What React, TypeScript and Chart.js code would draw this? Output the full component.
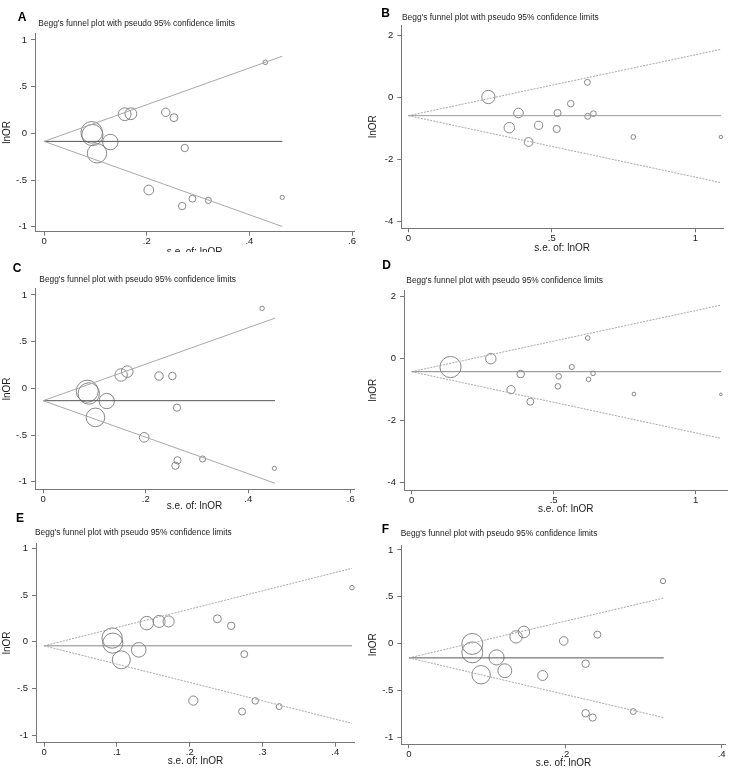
import React, { useEffect, useRef } from "react";
import { Chart, registerables } from "chart.js";
Chart.register(...registerables);

// ---------- Panel A ----------
const aSe = [0.431, 0.157, 0.169, 0.237, 0.253, 0.274, 0.0927, 0.094, 0.129, 0.103, 0.204, 0.269, 0.289, 0.32, 0.464];
const aLnOR = [0.761, 0.205, 0.21, 0.225, 0.168, -0.157, 0.011, -0.018, -0.093, -0.214, -0.607, -0.779, -0.7, -0.718, -0.686];
const aLineSe = [0, 0.464];
const aUpper = [-0.086, 0.826];
const aLower = [-0.086, -0.998];
const aPooled = [-0.086, -0.086];

// ---------- Panel B ----------
const bSe = [0.279, 0.624, 0.566, 0.384, 0.52, 0.625, 0.645, 0.352, 0.454, 0.517, 0.419, 0.784, 1.089];
const bLnOR = [0.0, 0.473, -0.215, -0.516, -0.516, -0.624, -0.538, -0.989, -0.914, -1.032, -1.452, -1.29, -1.29];
const bLineSe = [0, 1.09];
const bUpper = [-0.602, 1.538];
const bLower = [-0.602, -2.763];
const bPooled = [-0.602, -0.602];

// ---------- Panel C ----------
const cSe = [0.427, 0.152, 0.164, 0.226, 0.252, 0.261, 0.086, 0.089, 0.124, 0.102, 0.197, 0.262, 0.258, 0.311, 0.451];
const cLnOR = [0.857, 0.143, 0.179, 0.132, 0.132, -0.207, -0.03, -0.055, -0.136, -0.311, -0.525, -0.771, -0.829, -0.757, -0.857];
const cLineSe = [0, 0.452];
const cUpper = [-0.132, 0.752];
const cLower = [-0.132, -1.016];
const cPooled = [-0.132, -0.132];

// ---------- Panel D ----------
const dSe = [0.137, 0.279, 0.62, 0.564, 0.384, 0.518, 0.639, 0.623, 0.515, 0.35, 0.418, 0.783, 1.089];
const dLnOR = [-0.269, 0.0, 0.667, -0.269, -0.495, -0.57, -0.473, -0.667, -0.892, -1.0, -1.387, -1.14, -1.151];
const dLineSe = [0, 1.09];
const dUpper = [-0.419, 1.731];
const dLower = [-0.419, -2.57];
const dPooled = [-0.419, -0.419];

// ---------- Panel E ----------
const eSe = [0.423, 0.238, 0.257, 0.141, 0.158, 0.171, 0.0934, 0.0943, 0.13, 0.106, 0.275, 0.205, 0.272, 0.29, 0.323];
const eLnOR = [0.579, 0.246, 0.171, 0.2, 0.218, 0.218, 0.04, -0.014, -0.086, -0.193, -0.132, -0.629, -0.746, -0.632, -0.693];
const eLineSe = [0, 0.423];
const eUpper = [-0.043, 0.786];
const eLower = [-0.043, -0.872];
const ePooled = [-0.043, -0.043];

// ---------- Panel F ----------
const fSe = [0.325, 0.137, 0.147, 0.198, 0.241, 0.081, 0.081, 0.112, 0.1226, 0.0923, 0.171, 0.226, 0.226, 0.235, 0.287];
const fLnOR = [0.668, 0.072, 0.125, 0.029, 0.096, -0.003, -0.093, -0.147, -0.289, -0.332, -0.34, -0.214, -0.743, -0.789, -0.725];
const fLineSe = [0, 0.326];
const fUpper = [-0.152, 0.487];
const fLower = [-0.152, -0.79];
const fPooled = [-0.152, -0.152];

// ---------- ticks ----------
const xTicksSmall = [0, 0.2, 0.4, 0.6];
const xTicksLarge = [0, 0.5, 1];
const xTicksE = [0, 0.1, 0.2, 0.3, 0.4];
const xTicksF = [0, 0.2, 0.4];
const yTicksSmall = [-1, -0.5, 0, 0.5, 1];
const yTicksLarge = [-4, -2, 0, 2];

const HEADING = "Begg's funnel plot with pseudo 95% confidence limits";
const X_TITLE = "s.e. of: lnOR";
const Y_TITLE = "lnOR";

type Panel = {
  letter: string;
  se: number[]; lnor: number[];
  lineSe: number[]; upper: number[]; lower: number[]; pooled: number[];
  xTicks: number[]; yTicks: number[];
  canvas: { x: number; y: number; w: number; h: number };
  plot: { L: number; T: number; R: number; B: number };
  xAnchor: number[]; yAnchor: number[];
  titlePadB: number; rScale: number; dashed: boolean; pooledColor: string;
  letterPos: { x: number; y: number }; headingPos: { x: number; y: number };
};

const panels: Panel[] = [
  { letter: "A", se: aSe, lnor: aLnOR, lineSe: aLineSe, upper: aUpper, lower: aLower, pooled: aPooled,
    xTicks: xTicksSmall, yTicks: yTicksSmall,
    canvas: { x: 1, y: 0, w: 365, h: 252 }, plot: { L: 35, T: 33, R: 360, B: 231.7 },
    xAnchor: [0, 44.3, 0.6, 357.7], yAnchor: [1, 40, -1, 226.7],
    titlePadB: -6, rScale: 1.0, dashed: false, pooledColor: "#555",
    letterPos: { x: 22, y: 17 }, headingPos: { x: 38.3, y: 22.7 } },
  { letter: "B", se: bSe, lnor: bLnOR, lineSe: bLineSe, upper: bUpper, lower: bLower, pooled: bPooled,
    xTicks: xTicksLarge, yTicks: yTicksLarge,
    canvas: { x: 367, y: 0, w: 370, h: 253 }, plot: { L: 401.3, T: 25, R: 723, B: 228.3 },
    xAnchor: [0, 408.3, 1, 695.3], yAnchor: [2, 35, -4, 221],
    titlePadB: -1.2, rScale: 1.85, dashed: true, pooledColor: "#999",
    letterPos: { x: 385.5, y: 13 }, headingPos: { x: 402, y: 17.3 } },
  { letter: "C", se: cSe, lnor: cLnOR, lineSe: cLineSe, upper: cUpper, lower: cLower, pooled: cPooled,
    xTicks: xTicksSmall, yTicks: yTicksSmall,
    canvas: { x: 1, y: 258, w: 365, h: 254 }, plot: { L: 35, T: 288.3, R: 360, B: 489.3 },
    xAnchor: [0, 43.3, 0.6, 356.7], yAnchor: [1, 295, -1, 481.7],
    titlePadB: -0.5, rScale: 0.95, dashed: false, pooledColor: "#555",
    letterPos: { x: 17, y: 267.5 }, headingPos: { x: 39.3, y: 279 } },
  { letter: "D", se: dSe, lnor: dLnOR, lineSe: dLineSe, upper: dUpper, lower: dLower, pooled: dPooled,
    xTicks: xTicksLarge, yTicks: yTicksLarge,
    canvas: { x: 367, y: 258, w: 372, h: 256 }, plot: { L: 404, T: 290, R: 731.3, B: 490.3 },
    xAnchor: [0, 411.7, 1, 699], yAnchor: [2, 296.7, -4, 482.7],
    titlePadB: -1.2, rScale: 1.45, dashed: true, pooledColor: "#888",
    letterPos: { x: 386.5, y: 265 }, headingPos: { x: 406.3, y: 280 } },
  { letter: "E", se: eSe, lnor: eLnOR, lineSe: eLineSe, upper: eUpper, lower: eLower, pooled: ePooled,
    xTicks: xTicksE, yTicks: yTicksSmall,
    canvas: { x: 1, y: 515, w: 365, h: 257 }, plot: { L: 36, T: 543, R: 360, B: 742.7 },
    xAnchor: [0, 44.3, 0.4, 340], yAnchor: [1, 548.3, -1, 735.3],
    titlePadB: 4.5, rScale: 0.95, dashed: true, pooledColor: "#888",
    letterPos: { x: 20, y: 518 }, headingPos: { x: 35, y: 532.3 } },
  { letter: "F", se: fSe, lnor: fLnOR, lineSe: fLineSe, upper: fUpper, lower: fLower, pooled: fPooled,
    xTicks: xTicksF, yTicks: yTicksSmall,
    canvas: { x: 367, y: 515, w: 370, h: 257 }, plot: { L: 401.3, T: 545, R: 726.3, B: 744.3 },
    xAnchor: [0, 409, 0.4, 722.3], yAnchor: [1, 550, -1, 737.3],
    titlePadB: 2.5, rScale: 0.85, dashed: true, pooledColor: "#555",
    letterPos: { x: 385.5, y: 529 }, headingPos: { x: 400.7, y: 533.3 } },
];

const FONT = "'Liberation Sans', Arial, Helvetica, sans-serif";

function stataLabel(v: number): string {
  const r = Math.round(v * 1000) / 1000;
  if (r === 0) return "0";
  return String(r).replace(/^(-?)0\./, "$1.");
}

function FunnelPanel({ p }: { p: Panel }) {
  const ref = useRef<HTMLCanvasElement>(null);
  useEffect(() => {
    if (!ref.current) return;
    const [xv0, xp0, xv1, xp1] = p.xAnchor;
    const xs = (xv1 - xv0) / (xp1 - xp0);
    const xMin = xv0 + (p.plot.L - xp0) * xs;
    const xMax = xv0 + (p.plot.R - xp0) * xs;
    const [yv0, yp0, yv1, yp1] = p.yAnchor;
    const ys = (yv1 - yv0) / (yp1 - yp0);
    const yMax = yv0 + (p.plot.T - yp0) * ys;
    const yMin = yv0 + (p.plot.B - yp0) * ys;

    const lineStyle = (data: number[], color: string, dash: number[]) => ({
      data: p.lineSe.map((s, i) => ({ x: s, y: data[i] })),
      showLine: true,
      pointRadius: 0,
      borderColor: color,
      borderWidth: 1,
      borderDash: dash,
      backgroundColor: "transparent",
    });
    const funnelDash = p.dashed ? [2, 1.2] : [];

    const chart = new Chart(ref.current, {
      type: "scatter",
      data: {
        datasets: [
          lineStyle(p.upper, "#a8a8a8", funnelDash),
          lineStyle(p.lower, "#a8a8a8", funnelDash),
          lineStyle(p.pooled, p.pooledColor, []),
          {
            data: p.se.map((s, i) => ({ x: s, y: p.lnor[i] })),
            pointRadius: (ctx: any) => p.rScale / (ctx.raw ? ctx.raw.x : 1),
            pointBorderWidth: 0.9,
            pointBorderColor: "#7a7a7a",
            pointBackgroundColor: "transparent",
            showLine: false,
          },
        ],
      } as any,
      options: {
        animation: false,
        responsive: false,
        maintainAspectRatio: false,
        layout: {
          padding: {
            left: 0,
            top: p.plot.T - p.canvas.y,
            right: p.canvas.x + p.canvas.w - p.plot.R,
            bottom: 0,
          },
        },
        plugins: { legend: { display: false }, tooltip: { enabled: false } },
        scales: {
          x: {
            type: "linear",
            min: xMin,
            max: xMax,
            afterFit: (s: any) => { s.height = p.canvas.y + p.canvas.h - p.plot.B; },
            afterBuildTicks: (s: any) => { s.ticks = p.xTicks.map((v) => ({ value: v })); },
            ticks: {
              autoSkip: false, maxRotation: 0, padding: 0,
              color: "#222", font: { family: FONT, size: 9.5 },
              callback: (v: any) => stataLabel(Number(v)),
            },
            grid: { display: true, drawOnChartArea: false, drawTicks: true, tickLength: 4, color: "#777" },
            border: { display: true, color: "#777", width: 1 },
            title: {
              display: true, text: X_TITLE, color: "#222",
              font: { family: FONT, size: 10, lineHeight: 1.2 },
              padding: { top: 0, bottom: p.titlePadB },
            },
          },
          y: {
            type: "linear",
            min: yMin,
            max: yMax,
            afterFit: (s: any) => { s.width = p.plot.L - p.canvas.x; },
            afterBuildTicks: (s: any) => { s.ticks = p.yTicks.map((v) => ({ value: v })); },
            ticks: {
              autoSkip: false, padding: 4,
              color: "#222", font: { family: FONT, size: 9.5 },
              callback: (v: any) => stataLabel(Number(v)),
            },
            grid: { display: true, drawOnChartArea: false, drawTicks: true, tickLength: 4, color: "#777" },
            border: { display: true, color: "#777", width: 1 },
            title: {
              display: true, text: Y_TITLE, color: "#222",
              font: { family: FONT, size: 10, lineHeight: 1.2 },
              padding: { top: 0, bottom: 0 },
            },
          },
        },
      } as any,
    });
    return () => chart.destroy();
  }, [p]);

  return (
    <canvas
      ref={ref}
      width={p.canvas.w}
      height={p.canvas.h}
      style={{ position: "absolute", left: p.canvas.x, top: p.canvas.y, width: p.canvas.w, height: p.canvas.h }}
    />
  );
}

export default function App() {
  return (
    <div style={{ position: "fixed", left: 0, top: 0, width: 756, height: 772, background: "#fff", overflow: "hidden", fontFamily: FONT }}>
      {panels.map((p) => (
        <React.Fragment key={p.letter}>
          <FunnelPanel p={p} />
          <span
            style={{
              position: "absolute", left: p.letterPos.x, top: p.letterPos.y,
              transform: "translate(-50%, -50%)", fontWeight: 700, fontSize: 12,
              lineHeight: 1, color: "#000", whiteSpace: "nowrap",
            }}
          >
            {p.letter}
          </span>
          <span
            style={{
              position: "absolute", left: p.headingPos.x, top: p.headingPos.y,
              transform: "translateY(-50%)", fontSize: 8.4, lineHeight: 1,
              color: "#222", whiteSpace: "nowrap",
            }}
          >
            {HEADING}
          </span>
        </React.Fragment>
      ))}
    </div>
  );
}
